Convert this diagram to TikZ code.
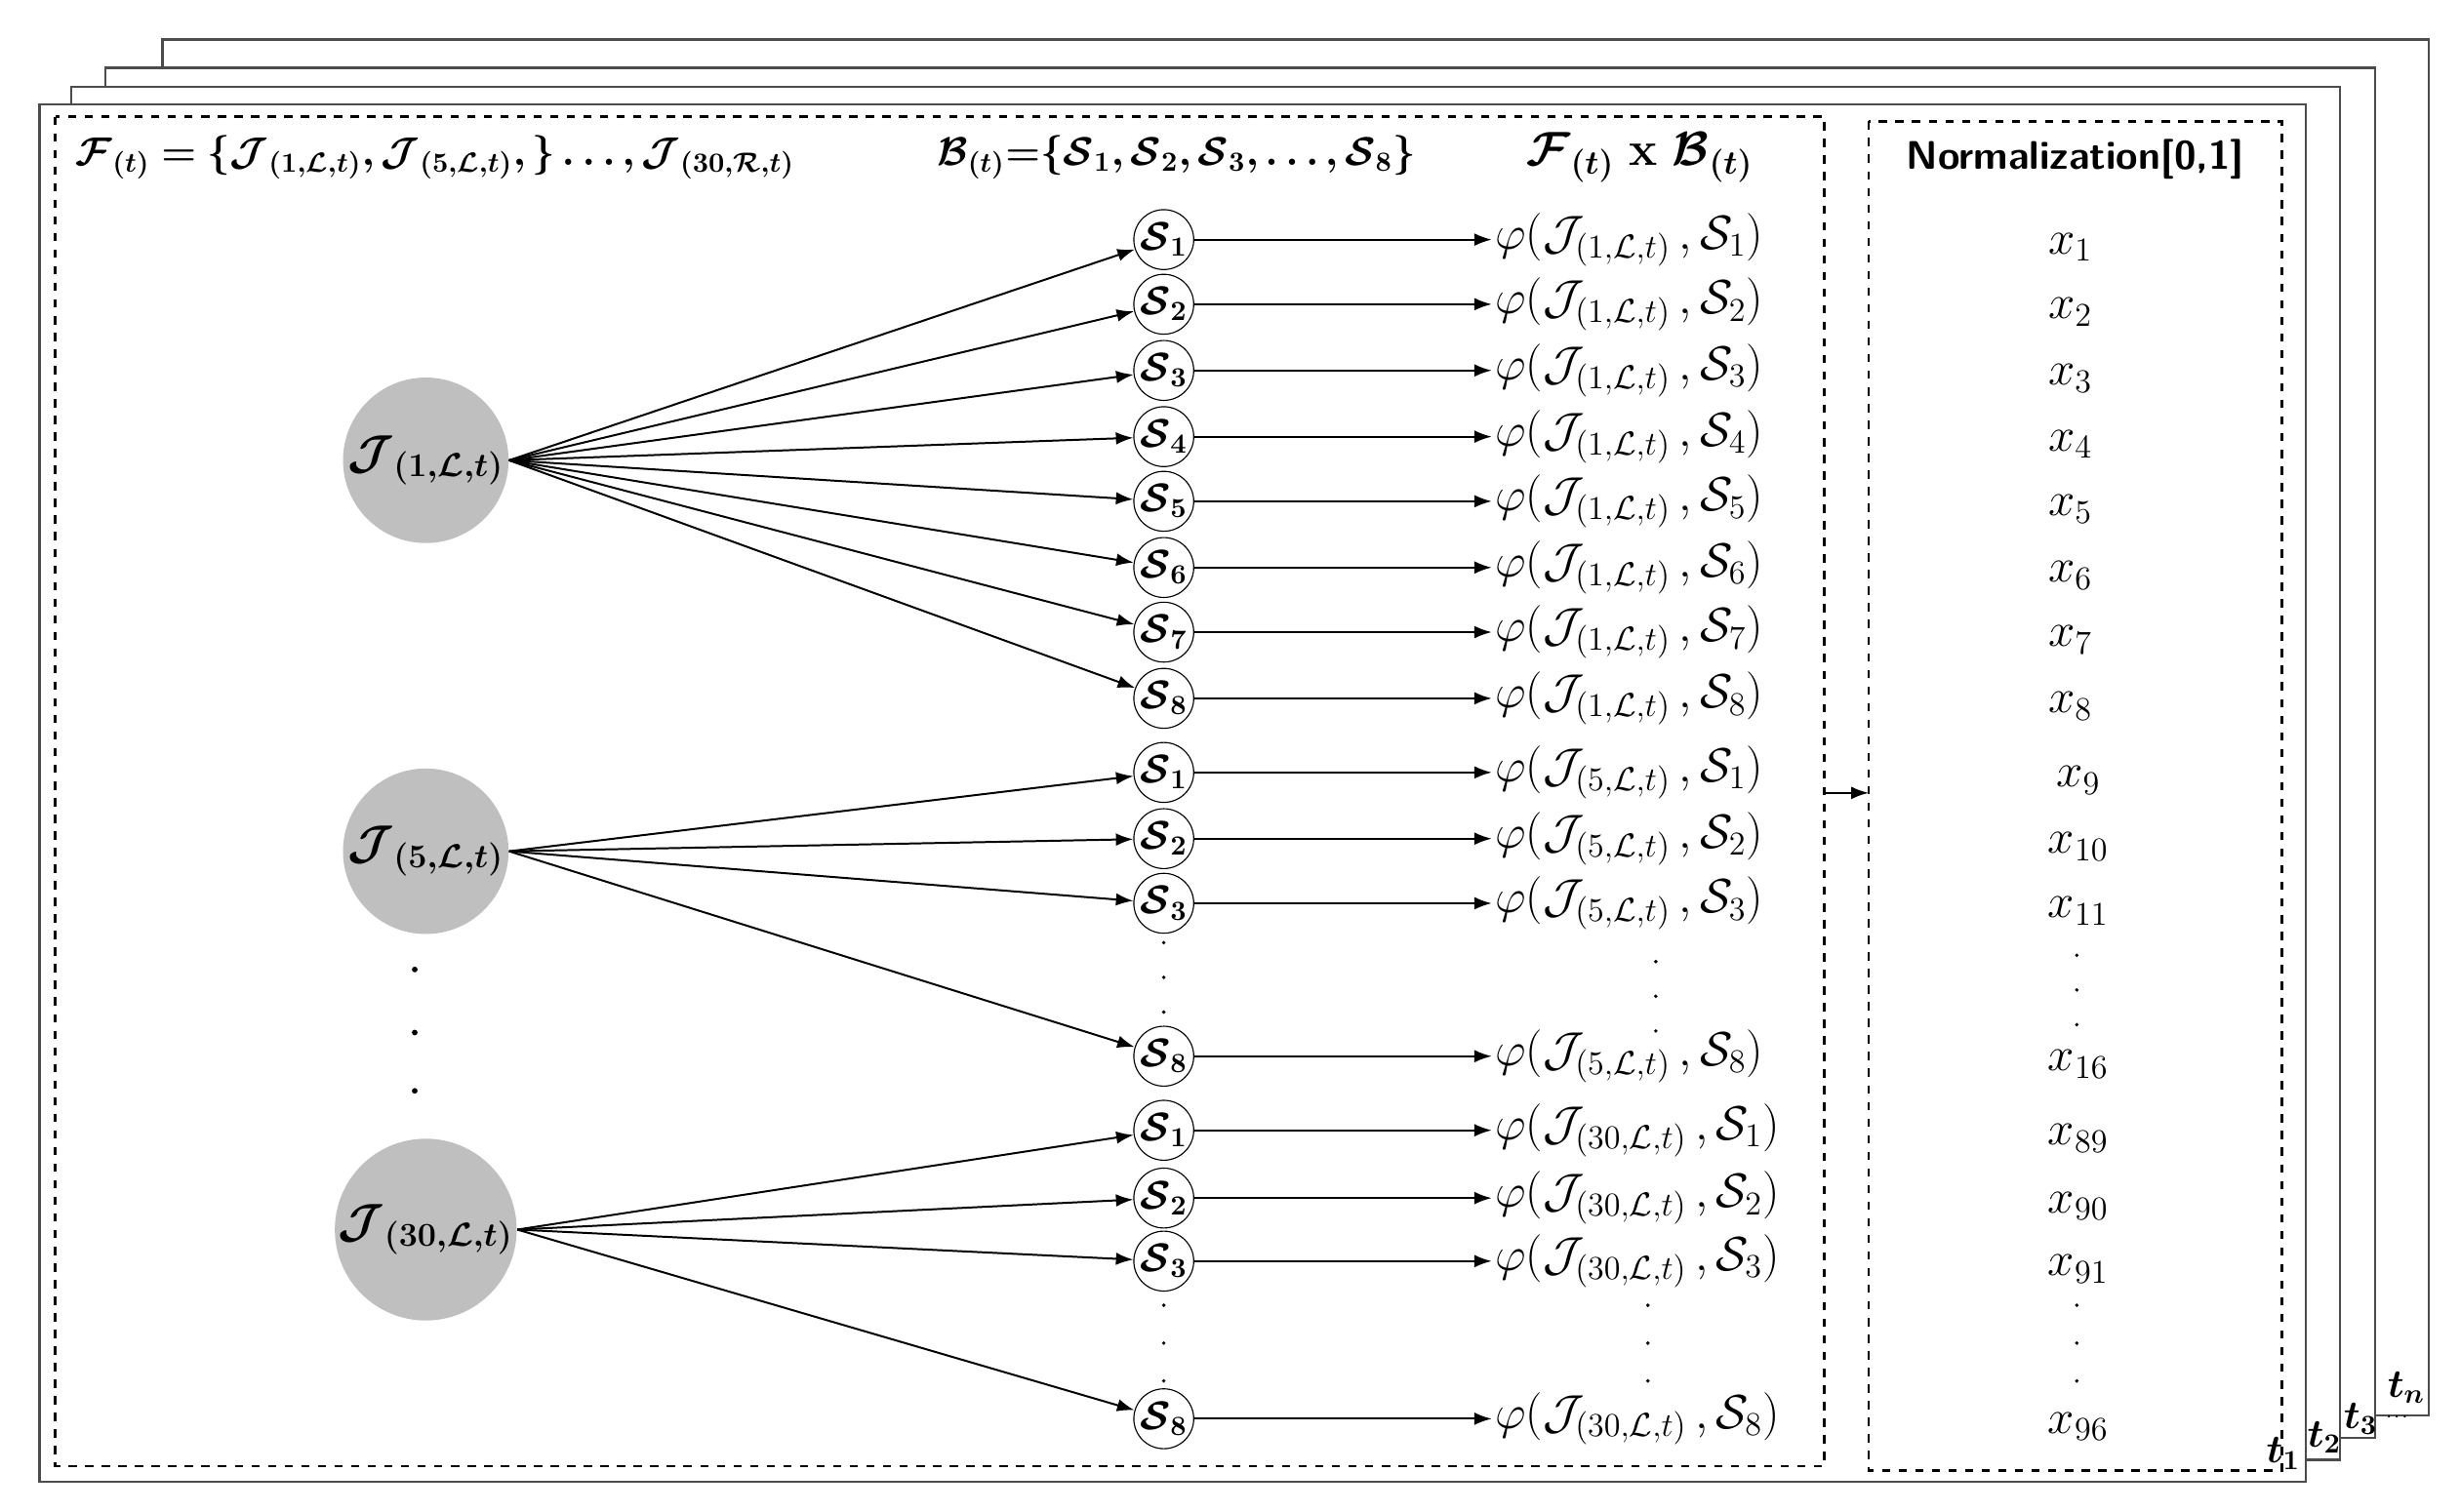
\documentclass[tikz,border=0pt]{standalone}
\usepackage{amsmath}
\usepackage{bm}
\usetikzlibrary{arrows.meta}
\begin{document}
\begin{tikzpicture}[x=0.02cm, y=-0.02cm,
	frame/.style={draw=black!70, line width=0.8pt, fill=white},
	box/.style={draw, dashed, line width=0.9pt},
	jnode/.style={circle, fill=black!25, minimum size=2.1cm, inner sep=0pt, font=\LARGE},
	snode/.style={circle, draw, minimum size=0.76cm, inner sep=0pt, font=\Large},
	phi/.style={anchor=west, font=\LARGE, inner sep=1pt},
	xlab/.style={font=\LARGE},
	arr/.style={-{Latex[length=2.2mm, width=1.6mm]}, line width=0.7pt}]
	\useasboundingbox (0,0) rectangle (1560,959);
	% stacked frames t_n ... t_1
	\draw[frame] (103,25) rectangle (1540,898);
	\draw[frame] (67,43) rectangle (1506,912);
	\draw[frame] (45,55) rectangle (1484,926);
	\draw[frame] (25,66) rectangle (1462,940);
	\node[font=\Large] (tn) at (1526,880) {$\bm{t_n}$};
	\node[font=\Large] (t3) at (1497,900) {$\bm{t_3}$};
	\node[font=\scriptsize, inner sep=0pt] (tdots) at (1520,899) {$\cdot\!\cdot\!\cdot$};
	\node[font=\Large] (t2) at (1474,912) {$\bm{t_2}$};
	\node[font=\Large] (t1) at (1448,922) {$\bm{t_1}$};
	% dashed boxes
	\draw[box] (35,74) rectangle (1157,930);
	\draw[box] (1185,77) rectangle (1447,933);
	% headers
	\node[anchor=west, font=\Large] (fhead) at (42,100) {$\bm{\mathcal{F}_{(t)} = \{\mathcal{J}_{(1,\mathcal{L},t)},\mathcal{J}_{(5,\mathcal{L},t)},\} \ldots,\mathcal{J}_{(30,\mathcal{R},t)}}$};
	\node[anchor=west, font=\Large] (bhead) at (588,100) {$\bm{\mathcal{B}_{(t)}{=}\{\mathcal{S}_1,\mathcal{S}_2,\mathcal{S}_3,\ldots,\mathcal{S}_8\}}$};
	\node[anchor=west, font=\LARGE] (fbhead) at (962,100) {$\bm{\mathcal{F}_{(t)}}$ \textbf{x} $\bm{\mathcal{B}_{(t)}}$};
	\node[font=\Large\sffamily\bfseries] (norm) at (1316,101) {Normalization[0,1]};
	% feature nodes
	\node[jnode] (j1) at (270,292) {$\bm{\mathcal{J}_{(1,\mathcal{L},t)}}$};
	\node[jnode] (j5) at (270,540) {$\bm{\mathcal{J}_{(5,\mathcal{L},t)}}$};
	\node[jnode] (j30) at (270,780) {$\bm{\mathcal{J}_{(30,\mathcal{L},t)}}$};
	\foreach \y in {615,655,692} \fill (263,\y) circle (1.8);
	% first group
	\foreach \i/\y in {1/152,2/193,3/235,4/277,5/318,6/360,7/401,8/443} {
		\node[snode] (sa\i) at (738,\y) {$\bm{\mathcal{S}_{\i}}$};
		\node[phi] (pa\i) at (946,\y) {$\varphi(\mathcal{J}_{(1,\mathcal{L},t)}\,,\mathcal{S}_{\i})$};
		\node[xlab] (xa\i) at (1313,\y+5) {$x_{\i}$};
		\draw[arr] (j1.east) -- (sa\i);
		\draw[arr] (sa\i) -- (pa\i);
	}
	% second group
	\foreach \i/\y/\k in {1/490/9,2/532/10,3/573/11,8/670/16} {
		\node[snode] (sb\i) at (738,\y) {$\bm{\mathcal{S}_{\i}}$};
		\node[phi] (pb\i) at (946,\y) {$\varphi(\mathcal{J}_{(5,\mathcal{L},t)}\,,\mathcal{S}_{\i})$};
		\node[xlab] (xb\i) at (1318,\y+5) {$x_{\k}$};
		\draw[arr] (j5.east) -- (sb\i);
		\draw[arr] (sb\i) -- (pb\i);
	}
	% third group
	\foreach \i/\y/\k in {1/717/89,2/760/90,3/800/91,8/900/96} {
		\node[snode] (sc\i) at (738,\y) {$\bm{\mathcal{S}_{\i}}$};
		\node[phi] (pc\i) at (946,\y) {$\varphi(\mathcal{J}_{(30,\mathcal{L},t)}\,,\mathcal{S}_{\i})$};
		\node[xlab] (xc\i) at (1318,\y+5) {$x_{\k}$};
		\draw[arr] (j30.east) -- (sc\i);
		\draw[arr] (sc\i) -- (pc\i);
	}
	% vertical dots
	\foreach \y in {598,620,642} {
		\fill (738,\y) circle (1.2);
		\fill (1050,\y+12) circle (1.2);
		\fill (1317,\y+8) circle (1.2);
	}
	\foreach \y in {828,852,876} {
		\fill (738,\y) circle (1.2);
		\fill (1045,\y) circle (1.2);
		\fill (1317,\y) circle (1.2);
	}
	% link to normalization
	\coordinate (lout) at (1158,503);
	\coordinate (nin) at (1185,503);
	\draw[arr] (lout) -- (nin);
\end{tikzpicture}
\end{document}
